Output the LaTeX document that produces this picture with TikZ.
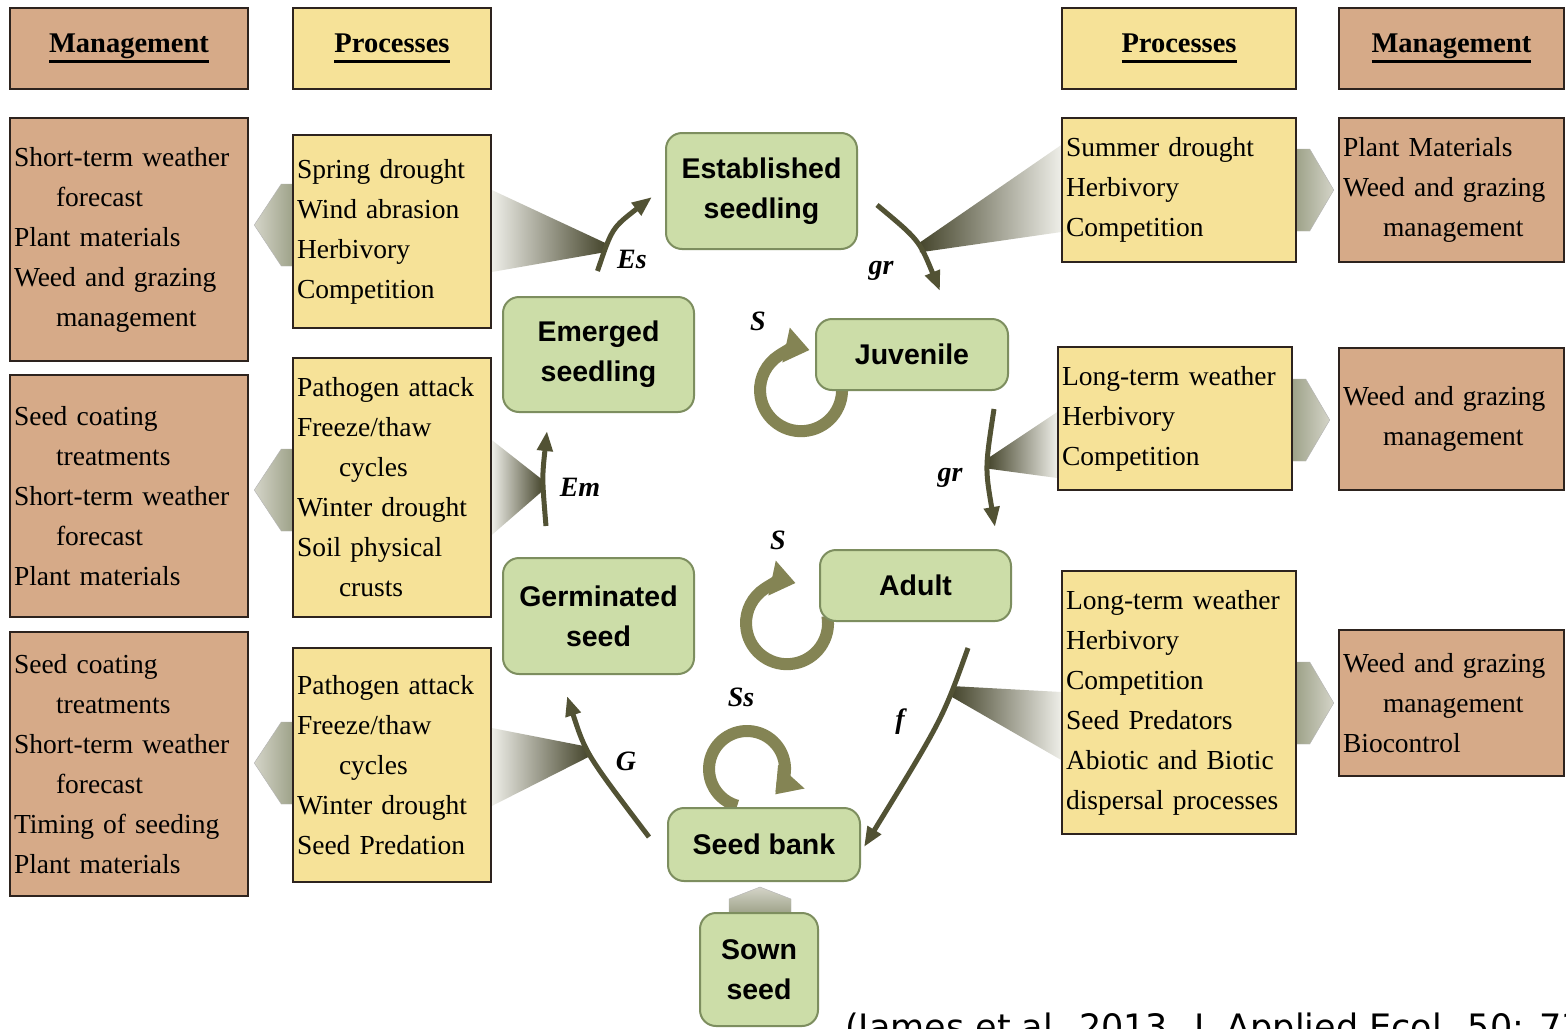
\documentclass[tikz,border=0pt]{standalone}
\usepackage{fontspec}
\setmainfont{Liberation Serif}
\newfontfamily\arialfont{Liberation Sans}
\newfontfamily\citefont{DejaVu Sans}
\usetikzlibrary{arrows.meta,backgrounds}
\definecolor{mgmt}{RGB}{214,170,136}
\definecolor{proc}{RGB}{246,226,152}
\definecolor{stage}{RGB}{204,221,168}
\definecolor{stageline}{RGB}{125,142,95}
\definecolor{boxline}{RGB}{45,35,30}
\definecolor{arrdark}{RGB}{82,82,52}
\definecolor{loopol}{RGB}{132,132,84}
\definecolor{chevlight}{RGB}{212,212,200}
\definecolor{chevdark}{RGB}{150,155,128}
\definecolor{funlight}{RGB}{238,238,232}
\definecolor{fundark}{RGB}{70,70,45}
\newcommand{\ulhead}[1]{\setbox0\hbox{#1}\rlap{\rule[-10.5pt]{\wd0}{3pt}}\box0}

\begin{document}
\begin{tikzpicture}[x=1pt,y=-1pt,
  txt/.style={draw=boxline,line width=1.5pt,align=left,inner xsep=4pt,inner ysep=0pt,font=\fontsize{27.5}{40}\selectfont},
  mbox/.style={txt,fill=mgmt},
  pbox/.style={txt,fill=proc},
  headbox/.style={draw=boxline,line width=1.5pt,minimum height=81pt,font=\fontsize{28.5}{34}\selectfont\bfseries},
  stagebox/.style={draw=stageline,line width=2pt,fill=stage,rounded corners=16pt,align=center,font=\arialfont\bfseries\fontsize{28.5}{40}\selectfont},
  cyc/.style={draw=arrdark,line width=5pt,-{Triangle[length=20pt,width=15pt]}},
  selfloop/.style={draw=loopol,line width=12pt,-{Triangle[length=24pt,width=34pt]}},
  rate/.style={font=\fontsize{28}{30}\selectfont\bfseries\itshape},
]
\useasboundingbox (0,0) rectangle (1566,1028);
\clip (0,0) rectangle (1566,1028);
% headers
\node[headbox,fill=mgmt,minimum width=238pt] (hML) at (129,48.5) {\ulhead{Management}};
\node[headbox,fill=proc,minimum width=198pt] (hPL) at (392,48.5) {\ulhead{Processes}};
\node[headbox,fill=proc,minimum width=234pt] (hPR) at (1179,48.5) {\ulhead{Processes}};
\node[headbox,fill=mgmt,minimum width=225pt] (hMR) at (1451.5,48.5) {\ulhead{Management}};
% left management
\node[mbox,text width=230pt,minimum height=243pt] (m1) at (129,239.5) {Short-term weather\\\hspace*{42pt}forecast\\Plant materials\\Weed and grazing\\\hspace*{42pt}management};
\node[mbox,text width=230pt,minimum height=242pt] (m2) at (129,496) {Seed coating\\\hspace*{42pt}treatments\\Short-term weather\\\hspace*{42pt}forecast\\Plant materials};
\node[mbox,text width=230pt,minimum height=264pt] (m3) at (129,764) {Seed coating\\\hspace*{42pt}treatments\\Short-term weather\\\hspace*{42pt}forecast\\Timing of seeding\\Plant materials};
% left processes
\node[pbox,text width=190pt,minimum height=193pt] (p1) at (392,231.5) {Spring drought\\Wind abrasion\\Herbivory\\Competition};
\node[pbox,text width=190pt,minimum height=259pt] (p2) at (392,487.5) {Pathogen attack\\Freeze/thaw\\\hspace*{42pt}cycles\\Winter drought\\Soil physical\\\hspace*{42pt}crusts};
\node[pbox,text width=190pt,minimum height=234pt] (p3) at (392,765) {Pathogen attack\\Freeze/thaw\\\hspace*{42pt}cycles\\Winter drought\\Seed Predation};
% right processes
\node[pbox,text width=226pt,minimum height=144pt] (q1) at (1179,190) {Summer drought\\Herbivory\\Competition};
\node[pbox,text width=226pt,minimum height=143pt] (q2) at (1175,418.5) {Long-term weather\\Herbivory\\Competition};
\node[pbox,text width=226pt,minimum height=263pt] (q3) at (1179,702.5) {Long-term weather\\Herbivory\\Competition\\Seed Predators\\Abiotic and Biotic\\dispersal processes};
% right management
\node[mbox,text width=217pt,minimum height=144pt] (r1) at (1451.5,190) {Plant Materials\\Weed and grazing\\\hspace*{40pt}management};
\node[mbox,text width=217pt,minimum height=142pt] (r2) at (1451.5,419) {Weed and grazing\\\hspace*{40pt}management};
\node[mbox,text width=217pt,minimum height=146pt] (r3) at (1451.5,703) {Weed and grazing\\\hspace*{40pt}management\\Biocontrol};
% life stages
\node[stagebox,minimum width=191pt,minimum height=116pt] (est) at (761.5,191) {Established\\seedling};
\node[stagebox,minimum width=191pt,minimum height=115pt] (emg) at (598.5,354.5) {Emerged\\seedling};
\node[stagebox,minimum width=192pt,minimum height=71pt] (juv) at (912,354.5) {Juvenile};
\node[stagebox,minimum width=191pt,minimum height=116pt] (ger) at (598.5,616) {Germinated\\seed};
\node[stagebox,minimum width=191pt,minimum height=71pt] (adu) at (915.5,585.5) {Adult};
\node[stagebox,minimum width=192pt,minimum height=73pt] (sbk) at (764,844.5) {Seed bank};
\node[stagebox,minimum width=118pt,minimum height=113pt] (sown) at (759,969.5) {Sown\\seed};
% transitions
\draw[cyc] ([shift={(-1,-25)}]emg.north) .. controls (612,228) .. ([shift={(-13,6)}]est.west) coordinate[pos=0.22] (esMid);
\draw[cyc] ([shift={(-52.5,-31)}]ger.north) .. controls (542,478) .. ([shift={(-51.5,18)}]emg.south) coordinate[pos=0.4] (emMid);
\draw[cyc] ([shift={(19,14)}]est.east) .. controls (919,240) .. ([shift={(28,-27)}]juv.north) coordinate[pos=0.58] (gr1Mid);
\draw[cyc] ([shift={(-15,18)}]juv.south east) .. controls (985,468) .. ([shift={(-17,-22)}]adu.north east) coordinate[pos=0.45] (gr2Mid);
\draw[cyc] ([shift={(-18,-7.5)}]sbk.west) .. controls (586,754) .. ([shift={(-31.5,21)}]ger.south) coordinate[pos=0.55] (gMid);
\draw[cyc] ([shift={(52.5,26)}]adu.south) .. controls (942.5,719) .. ([shift={(3,2.5)}]sbk.east) coordinate[pos=0.25] (fMid);
% rate labels
\node[rate] (lEs) at (632,259) {Es};
\node[rate] (lGr1) at (881,271) {gr};
\node[rate] (lGr2) at (950,478) {gr};
\node[rate] (lEm) at (580,487) {Em};
\node[rate] (lG) at (626,761) {G};
\node[rate] (lF) at (900,722) {f};
\node[rate] (lSj) at (758,321) {S};
\node[rate] (lSa) at (778,540) {S};
\node[rate] (lSs) at (741,697) {Ss};
% source
\node[anchor=base west,inner sep=0pt,font=\citefont\fontsize{35}{40}\selectfont] (cite) at (845,1039) {(James et al. 2013. J. Applied Ecol. 50: 73};
\begin{scope}[on background layer]
\fill[white] (0,0) rectangle (1566,1028);
% funnels from processes
\shade[left color=funlight,right color=fundark] ([shift={(0,-41.5)}]p1.east) -- ([shift={(0,-5)}]esMid) -- ([shift={(0,4)}]esMid) -- ([shift={(0,40.5)}]p1.east) -- cycle;
\shade[left color=funlight,right color=fundark] ([shift={(0,-47.5)}]p2.east) -- ([shift={(0,-5)}]emMid) -- ([shift={(0,5)}]emMid) -- ([shift={(0,47.5)}]p2.east) -- cycle;
\shade[left color=funlight,right color=fundark] ([shift={(0,-37)}]p3.east) -- ([shift={(0,-5)}]gMid) -- ([shift={(0,5)}]gMid) -- ([shift={(0,41)}]p3.east) -- cycle;
\shade[left color=fundark,right color=funlight] ([shift={(0,-45)}]q1.west) -- ([shift={(0,-5)}]gr1Mid) -- ([shift={(0,5)}]gr1Mid) -- ([shift={(0,42)}]q1.west) -- cycle;
\shade[left color=fundark,right color=funlight] ([shift={(0,-6.5)}]q2.west) -- ([shift={(0,-5)}]gr2Mid) -- ([shift={(0,5)}]gr2Mid) -- ([shift={(0,59.5)}]q2.west) -- cycle;
\shade[left color=fundark,right color=funlight] ([shift={(0,-10.5)}]q3.west) -- ([shift={(0,-5)}]fMid) -- ([shift={(0,6)}]fMid) -- ([shift={(0,57.5)}]q3.west) -- cycle;
% chevrons to management
\foreach \p/\dy in {p1/-6.5,p2/2.5,p3/-2}
  \shade[draw=gray!60,left color=chevlight,right color=chevdark] ([shift={(6,\dy-41)}]\p.west) -- ([shift={(-11,\dy-41)}]\p.west) -- ([shift={(-38,\dy)}]\p.west) -- ([shift={(-11,\dy+41)}]\p.west) -- ([shift={(6,\dy+41)}]\p.west) -- cycle;
\foreach \q/\dy in {q1/0,q2/1.5,q3/0.5}
  \shade[draw=gray!60,left color=chevdark,right color=chevlight] ([shift={(-6,\dy-41)}]\q.east) -- ([shift={(13,\dy-41)}]\q.east) -- ([shift={(37,\dy)}]\q.east) -- ([shift={(13,\dy+41)}]\q.east) -- ([shift={(-6,\dy+41)}]\q.east) -- cycle;
\shade[draw=gray!60,top color=chevlight,bottom color=chevdark] ([shift={(-30,5)}]sown.north) -- ([shift={(-30,-13)}]sown.north) -- ([shift={(1,-25)}]sown.north) -- ([shift={(32,-13)}]sown.north) -- ([shift={(32,5)}]sown.north) -- cycle;
% self loops
\draw[selfloop] ([shift={(26.4,-7.95)}]juv.south west) arc[start angle=-10,end angle=282,radius=41];
\draw[selfloop] ([shift={(8.4,-5.95)}]adu.south west) arc[start angle=-10,end angle=282,radius=41];
\draw[selfloop] ([shift={(70.2,-1.3)}]sbk.north west) arc[start angle=105,end angle=402,radius=38];
\end{scope}
\end{tikzpicture}
\end{document}
